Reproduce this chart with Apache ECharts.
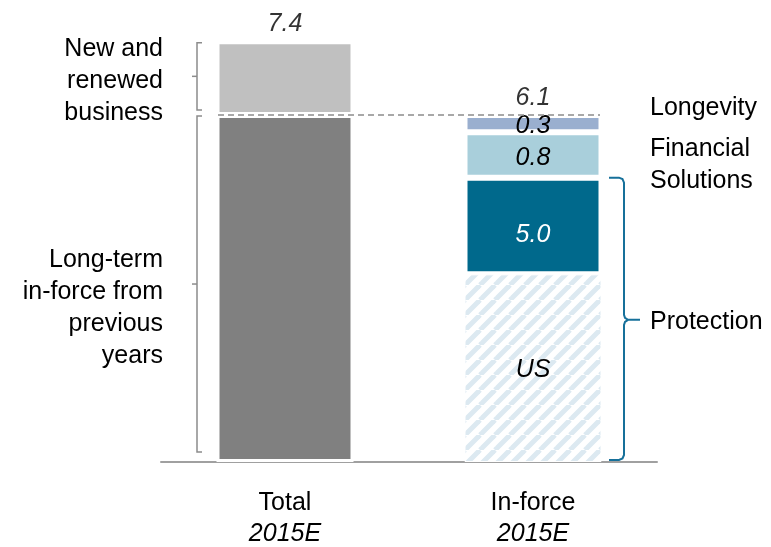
<!DOCTYPE html>
<html>
<head>
<meta charset="utf-8">
<script src="https://cdn.jsdelivr.net/npm/echarts@6/dist/echarts.min.js"></script>
<style>html,body{margin:0;padding:0;background:#fff}#c{width:771px;height:547px}</style>
</head>
<body>
<div id="c"></div>
<script>
// ---- data ----
const categories = ['Total', 'In-force'];
const categorySub = ['2015E', '2015E'];
const longTermInForce = [6.1, null];
const newRenewed = [1.3, null];
const protectionUS = [null, 3.3];
const protectionOther = [null, 1.7];
const financialSolutions = [null, 0.8];
const longevity = [null, 0.3];
const totals = [7.4, 6.1];
const protectionTotal = 5.0;
const fsLabel = '0.8';
const longevityLabel = '0.3';

const FONT = '"Liberation Sans", Arial, sans-serif';
const FS = 25;
const BAR_W = 137;

// hatch pattern for US protection
const pat = document.createElement('canvas');
pat.width = 15; pat.height = 15;
(function(){
  const g = pat.getContext('2d');
  g.fillStyle = '#ffffff'; g.fillRect(0,0,15,15);
  g.strokeStyle = '#dce9f1'; g.lineWidth = 5;
  for (const k of [-15, 0, 15]) {
    g.beginPath(); g.moveTo(k, 15); g.lineTo(k + 15, 0); g.stroke();
  }
})();

const chart = echarts.init(document.getElementById('c'), null, {renderer: 'canvas'});

const inLabel = (txt, color, dy) => ({
  show: true, position: 'inside', formatter: txt, color: color, offset: [0, dy || 0],
  fontFamily: FONT, fontSize: FS, fontStyle: 'italic'
});
const border = {borderColor: '#ffffff', borderWidth: 3};

chart.setOption({
  animation: false,
  grid: {left: 161, right: 114, top: 7, bottom: 83},
  xAxis: {
    type: 'category', data: categories, offset: 2,
    axisLine: {lineStyle: {color: '#a0a0a0', width: 2}},
    axisTick: {show: false},
    axisLabel: {
      margin: 24, interval: 0,
      formatter: (v, i) => '{a|' + v + '}\n{b|' + categorySub[i] + '}',
      rich: {
        a: {fontFamily: FONT, fontSize: FS, lineHeight: 31, color: '#000'},
        b: {fontFamily: FONT, fontSize: FS, lineHeight: 31, color: '#000', fontStyle: 'italic'}
      }
    }
  },
  yAxis: {type: 'value', min: 0, max: 8, show: false, splitLine: {show: false}},
  series: [
    {name: 'Long-term in-force', type: 'bar', stack: 'a', barWidth: BAR_W, data: longTermInForce,
     itemStyle: Object.assign({color: '#808080'}, border)},
    {name: 'New and renewed business', type: 'bar', stack: 'a', data: newRenewed,
     itemStyle: Object.assign({color: '#c0c0c0'}, border)},
    {name: 'Protection US', type: 'bar', stack: 'a', data: protectionUS,
     itemStyle: {color: {image: pat, repeat: 'repeat'}, borderColor: '#ffffff', borderWidth: 1},
     label: inLabel('US', '#000', 2)},
    {name: 'Protection other', type: 'bar', stack: 'a', data: protectionOther,
     itemStyle: Object.assign({color: '#00698c'}, border),
     label: inLabel(protectionTotal.toFixed(1), '#fff', 9)},
    {name: 'Financial Solutions', type: 'bar', stack: 'a', data: financialSolutions,
     itemStyle: Object.assign({color: '#a9cfdb'}, border),
     label: inLabel(fsLabel, '#000', 3)},
    {name: 'Longevity', type: 'bar', stack: 'a', data: longevity,
     itemStyle: Object.assign({color: '#9aafcf'}, border),
     label: inLabel(longevityLabel, '#000', 2)},
    {name: 'Totals', type: 'scatter', data: totals, symbolSize: 0, z: 5,
     label: {show: true, position: 'top', distance: 5, formatter: p => p.value.toFixed(1),
             fontFamily: FONT, fontSize: FS, fontStyle: 'italic', color: '#000'}}
  ]
});

// ---- annotations computed from data positions ----
const P = (i, v) => chart.convertToPixel({gridIndex: 0}, [i, v]);
const totX = P(0, 0)[0], infX = P(1, 0)[0];
const totL = totX - BAR_W / 2 + 1.5, infR = infX + BAR_W / 2 - 1.5;
const y = v => P(0, v)[1];
const grey = {stroke: '#8c8c8c', lineWidth: 1.5, fill: null};
const teal = {stroke: '#16709a', lineWidth: 2, fill: null};

function leftBracket(y1, y2) {
  const xv = totL - 21, ym = (y1 + y2) / 2;
  return [
    {type: 'polyline', shape: {points: [[xv + 5, y1], [xv, y1], [xv, y2], [xv + 5, y2]]}, style: grey, silent: true},
    {type: 'line', shape: {x1: xv - 5, y1: ym, x2: xv, y2: ym}, style: grey, silent: true}
  ];
}
const gTop = y(totals[0]) + 1.5, gMid = y(longTermInForce[0]), g0 = y(0);
const els = [];
els.push(...leftBracket(gTop, gMid - 5));
els.push(...leftBracket(gMid + 1, g0 - 10));

// Protection brace
const bTop = y(protectionTotal), bBot = g0 - 2, bMid = y(protectionTotal / 2);
const xv = infR + 24;
els.push({type: 'polyline', silent: true, style: teal, shape: {points: [
  [xv - 15, bTop], [xv - 5, bTop], [xv - 1.5, bTop + 1.5], [xv, bTop + 5],
  [xv, bMid - 5], [xv + 1, bMid - 2], [xv + 4, bMid], [xv + 16, bMid]]}});
els.push({type: 'polyline', silent: true, style: teal, shape: {points: [
  [xv + 4, bMid], [xv + 1, bMid + 2], [xv, bMid + 5],
  [xv, bBot - 5], [xv - 1.5, bBot - 1.5], [xv - 5, bBot], [xv - 15, bBot]]}});

// dashed reference line at in-force total
els.push({type: 'line', silent: true, z: 10,
  shape: {x1: totL, y1: gMid, x2: infR, y2: gMid},
  style: {stroke: '#8c8c8c', lineWidth: 1.5, lineDash: [6, 4]}});

const txt = (s, x, yy, align) => ({type: 'text', silent: true, z: 10,
  style: {text: s, x: x, y: yy, textAlign: align, textVerticalAlign: 'middle',
          font: FS + 'px ' + FONT, lineHeight: 32, fill: '#000'}});
els.push(txt('New and\nrenewed\nbusiness', totL - 55, (gTop + gMid) / 2 + 2, 'right'));
els.push(txt('Long-term\nin-force from\nprevious\nyears', totL - 55, (gMid + g0) / 2 + 20, 'right'));
const lvTop = y(totals[1]);
els.push(txt('Longevity', infR + 50, lvTop - 7, 'left'));
els.push(txt('Financial\nSolutions', infR + 50, y(protectionTotal + financialSolutions[1] / 2) + 10, 'left'));
els.push(txt('Protection', infR + 50, bMid + 2, 'left'));

chart.setOption({graphic: {elements: els}});
</script>
</body>
</html>
